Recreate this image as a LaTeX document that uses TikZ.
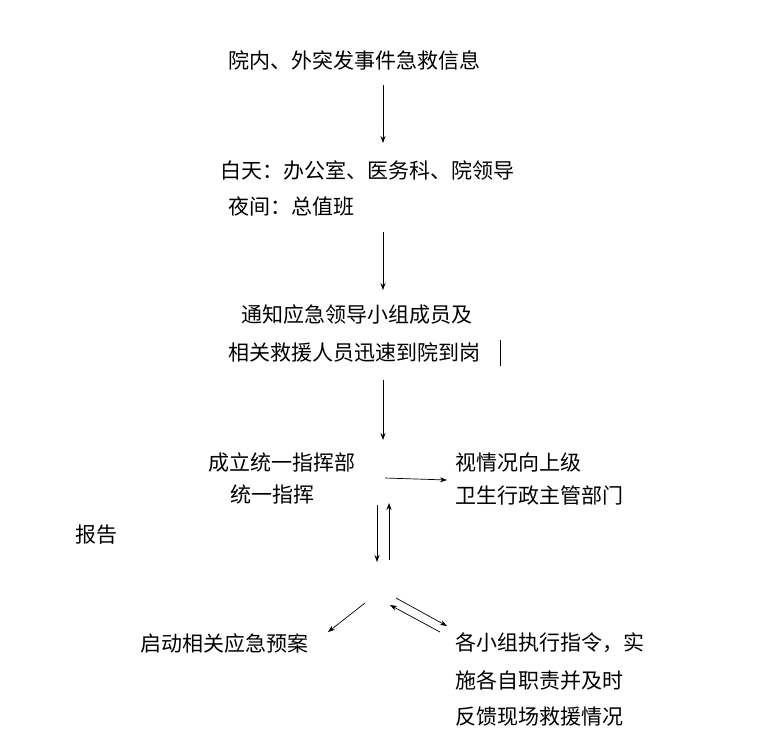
\documentclass[tikz,border=0pt]{standalone}
\usepackage{fontspec}
\usetikzlibrary{arrows.meta}
\newfontfamily\cjk{Noto Sans CJK SC}
\begin{document}
\begin{tikzpicture}[x=1pt,y=-1pt,
  t/.style={anchor=west,inner sep=0pt,font=\cjk\fontsize{21}{24}\selectfont},
  a/.style={-{Stealth[length=7pt,width=5pt]},line width=0.7pt}]
\useasboundingbox (0,0) rectangle (761,740);
\node[t] (n1) at (228,60) {院内、外突发事件急救信息};
\node[t] (n2) at (220,170) {白天：办公室、医务科、院领导};
\node[t] (n2b) at (228,206) {夜间：总值班};
\node[t] (n3) at (241,315) {通知应急领导小组成员及};
\node[t] (n3b) at (228,352) {相关救援人员迅速到院到岗};
\node[t] (n4) at (208,463) {成立统一指挥部};
\node[t] (n4b) at (230,494) {统一指挥};
\node[t] (n5) at (455,463) {视情况向上级};
\node[t] (n5b) at (455,496) {卫生行政主管部门};
\node[t] (bg) at (75,535) {报告};
\node[t] (n6) at (140,643) {启动相关应急预案};
\node[t] (n7) at (455,643) {各小组执行指令，实};
\node[t] (n7b) at (455,680) {施各自职责并及时};
\node[t] (n7c) at (455,717) {反馈现场救援情况};
\coordinate (cb1) at (500,340); \coordinate (cb2) at (500,366);
\draw[line width=0.6pt] (cb1) -- (cb2);
\coordinate (a1) at (383,85); \coordinate (a2) at (383,143);
\coordinate (b1) at (383,232); \coordinate (b2) at (383,290);
\coordinate (c1) at (383,380); \coordinate (c2) at (383,440);
\coordinate (d1) at (385,478); \coordinate (d2) at (447,480);
\coordinate (e1) at (377,505); \coordinate (e2) at (377,562);
\coordinate (f1) at (389,560); \coordinate (f2) at (389,503);
\coordinate (g1) at (365,603); \coordinate (g2) at (328,632);
\coordinate (h1) at (396,598); \coordinate (h2) at (447,626);
\coordinate (i1) at (440,632); \coordinate (i2) at (390,605);
\draw[a] (a1)--(a2); \draw[a] (b1)--(b2); \draw[a] (c1)--(c2);
\draw[a] (d1)--(d2); \draw[a] (e1)--(e2); \draw[a] (f1)--(f2);
\draw[a] (g1)--(g2); \draw[a] (h1)--(h2); \draw[a] (i1)--(i2);
\end{tikzpicture}
\end{document}
